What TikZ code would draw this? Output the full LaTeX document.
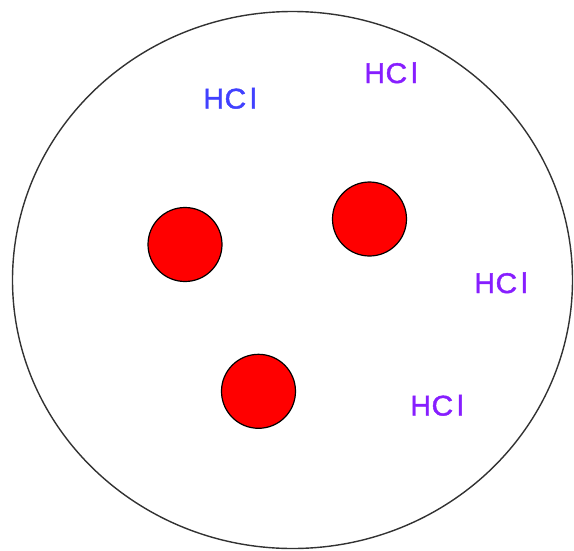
\documentclass[tikz,border=0pt]{standalone}
\usepackage{graphicx}
\usepackage{fontspec}
\setmainfont{Liberation Sans}
\newfontfamily\hclfont[FakeBold=1.4]{Liberation Sans}
\usetikzlibrary{shapes.geometric}
\definecolor{hclblue}{RGB}{65,65,255}
\definecolor{hclviolet}{RGB}{135,30,255}
\definecolor{rim}{RGB}{50,50,50}
\newcommand{\hclword}{H\kern0.5pt\scalebox{1.05}[1]{C}\kern4pt l}
\begin{document}
\begin{tikzpicture}[x=1pt,y=-1pt,
  mol/.style={circle, draw=black, line width=1.2pt, fill=red, minimum size=74pt, inner sep=0pt},
  hcl/.style={font=\hclfont\fontsize{28.5}{28.5}\selectfont, anchor=base, inner sep=0pt}]
\useasboundingbox (0,0) rectangle (574,550);
\node[ellipse, draw=rim, line width=1.4pt, minimum width=560pt, minimum height=537pt, inner sep=0pt] (vessel) at (292.5,280) {};
\node[mol] (m1) at (185,244.5) {};
\node[mol] (m2) at (369.5,219) {};
\node[mol] (m3) at (258.5,391.3) {};
\node[hcl, text=hclblue] (h1) at (230,108.5) {\hclword};
\node[hcl, text=hclviolet] (h2) at (391,83) {\hclword};
\node[hcl, text=hclviolet] (h3) at (501,293) {\hclword};
\node[hcl, text=hclviolet] (h4) at (437,415.5) {\hclword};
\end{tikzpicture}
\end{document}
